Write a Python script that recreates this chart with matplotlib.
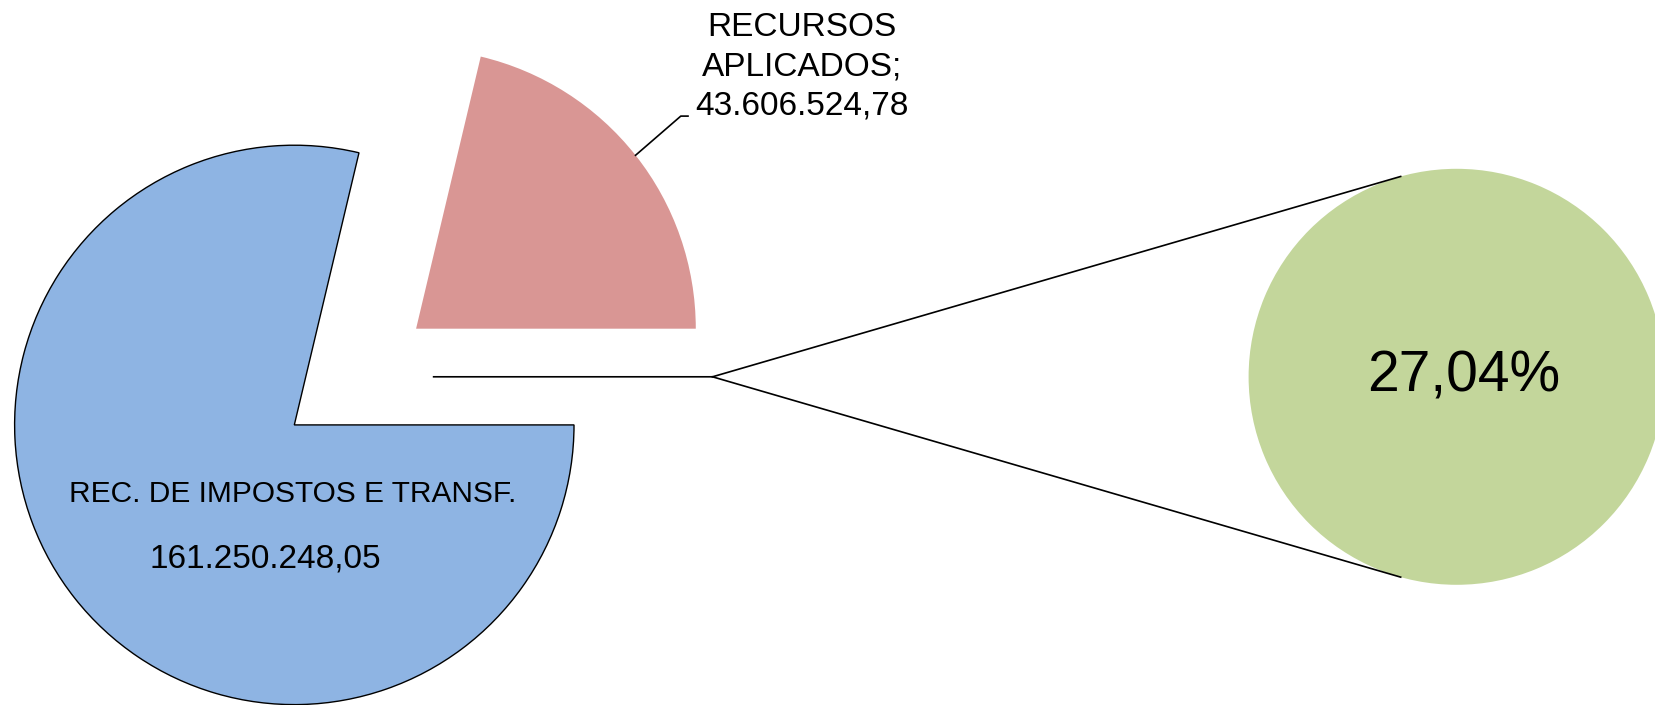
import numpy as np
import matplotlib
matplotlib.use("Agg")
import matplotlib.pyplot as plt

plt.rcParams['font.family'] = ['Liberation Sans', 'DejaVu Sans']

# primary pie: applied resources, taxes/transfers, and the (empty) "other" slice
labels = ["RECURSOS\nAPLICADOS;\n43.606.524,78", "REC. DE IMPOSTOS E TRANSF.", ""]
values = [43606524.78, 161250248.05, 0.0]
value_texts = ["43.606.524,78", "161.250.248,05", ""]
colors = ["#D99694", "#8EB4E3", "#FFFFFF"]

# secondary pie: share of applied resources
pct_values = [27.04]
pct_text = "27,04%"

fig = plt.figure(figsize=(16.55, 7.05), dpi=100)
ax = fig.add_axes([0, 0, 1, 1])

center = (355.2, 328.2)
radius = 279.7
expl = 77.6

wedges, _ = ax.pie(values, colors=colors, startangle=0, counterclock=True,
                   center=center, radius=radius, explode=[expl] * 3,
                   frame=True)
wedges[0].set_edgecolor("none")
wedges[1].set_edgecolor("black")
wedges[1].set_linewidth(1.0)
wedges[2].set_edgecolor("black")
wedges[2].set_linewidth(1.2)

# secondary circle
c2 = (1456.6, 328.2)
r2 = 208.0
ax.pie(pct_values, colors=["#C3D69B"], center=c2, radius=r2, startangle=90,
       frame=True)
ax.text(c2[0] + 7, c2[1], pct_text, fontsize=41, ha="center", va="center")

# connector lines from the empty slice to the secondary pie
tip = (wedges[2].center[0] + radius, wedges[2].center[1])
for ang in (105.6, 254.4):
    a = np.deg2rad(ang)
    ax.plot([tip[0], c2[0] + r2 * np.cos(a)], [tip[1], c2[1] + r2 * np.sin(a)],
            color="black", lw=1.2)

# label for the applied resources slice with a leader line
w = wedges[0]
tm = np.deg2rad((w.theta1 + w.theta2) / 2)
p0 = (w.center[0] + radius * np.cos(tm), w.center[1] + radius * np.sin(tm))
ax.plot([p0[0], 680.8, 688.0], [p0[1], 588.9, 588.9], color="black", lw=1.2)
ax.text(802, 638, labels[0], fontsize=24, ha="center", va="center",
        linespacing=1.35)

# label inside the taxes/transfers slice
ax.text(292.4, 211, labels[1], fontsize=21.5, ha="center", va="center")
ax.text(265, 146, value_texts[1], fontsize=24, ha="center", va="center")

ax.set_xlim(0, 1655)
ax.set_ylim(0, 705)
ax.set_aspect("equal")
ax.axis("off")

fig.savefig("out.png", dpi=100)
